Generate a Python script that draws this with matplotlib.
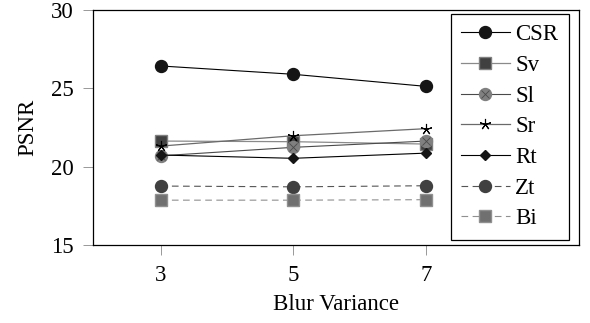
import matplotlib
matplotlib.use('Agg')
import matplotlib.pyplot as plt
from matplotlib.legend_handler import HandlerTuple

plt.rcParams['font.family'] = ['Liberation Serif', 'DejaVu Serif']

# data
blur = [3, 5, 7]
csr = [26.43, 25.9, 25.13]
sv = [21.64, 21.6, 21.45]
sl = [20.7, 21.24, 21.64]
sr = [21.32, 21.98, 22.43]
rt = [20.75, 20.54, 20.87]
zt = [18.77, 18.72, 18.79]
bi = [17.87, 17.87, 17.9]

fig, ax = plt.subplots(figsize=(5.9, 3.23), dpi=100)
fig.subplots_adjust(left=0.158, right=0.981, top=0.969, bottom=0.241)

h_csr, = ax.plot(blur, csr, color='black', lw=0.8, marker='o', ms=8.6, mfc='#151515', mec='#151515')
h_sv, = ax.plot(blur, sv, color='#8a8a8a', lw=0.9, marker='s', ms=8, mfc='#404040', mec='#808080')
h_sl1, = ax.plot(blur, sl, color='#4a4a4a', lw=0.8, marker='o', ms=8.6, mfc='#808080', mec='#808080')
h_sl2, = ax.plot(blur, sl, ls='none', marker='x', ms=5.5, mec='#4a4a4a', mew=0.6)
h_sr, = ax.plot(blur, sr, color='#6a6a6a', lw=0.9, marker=(5, 2, 0), ms=8, mec='black', mew=0.8)
h_rt, = ax.plot(blur, rt, color='black', lw=0.8, marker='D', ms=5.5, mfc='#151515', mec='#151515')
h_zt, = ax.plot(blur, zt, color='#555555', lw=0.8, ls=(0, (6, 4)), marker='o', ms=8.6, mfc='#404040', mec='#404040')
h_bi, = ax.plot(blur, bi, color='#909090', lw=0.8, ls=(0, (6, 4)), marker='s', ms=8, mfc='#707070', mec='#909090')

ax.set_xlim(1.98, 9.31)
ax.set_ylim(15, 30)
ax.set_xticks(blur)
ax.set_yticks([15, 20, 25, 30])
ax.tick_params(labelsize=16.5, direction='out', length=7, width=0.6, color='#888888')
ax.tick_params(axis='x', pad=7)
ax.tick_params(axis='y', pad=7)
for s in ax.spines.values():
    s.set_linewidth(0.9)
ax.set_xlabel('Blur Variance', fontsize=16.5, labelpad=6)
ax.set_ylabel('PSNR', fontsize=16.5, labelpad=9)

leg = ax.legend([h_csr, h_sv, (h_sl1, h_sl2), h_sr, h_rt, h_zt, h_bi],
                ['CSR', 'Sv', 'Sl', 'Sr', 'Rt', 'Zt', 'Bi'],
                handler_map={tuple: HandlerTuple(ndivide=1, pad=0)},
                loc='upper right', bbox_to_anchor=(0.979, 0.983), fontsize=16.5, numpoints=1,
                handlelength=2.1, labelspacing=0.42, handletextpad=0.25, borderpad=0.45,
                borderaxespad=0, fancybox=False, edgecolor='black', framealpha=1)
leg.get_frame().set_linewidth(0.9)

fig.savefig('out.png', dpi=100)
